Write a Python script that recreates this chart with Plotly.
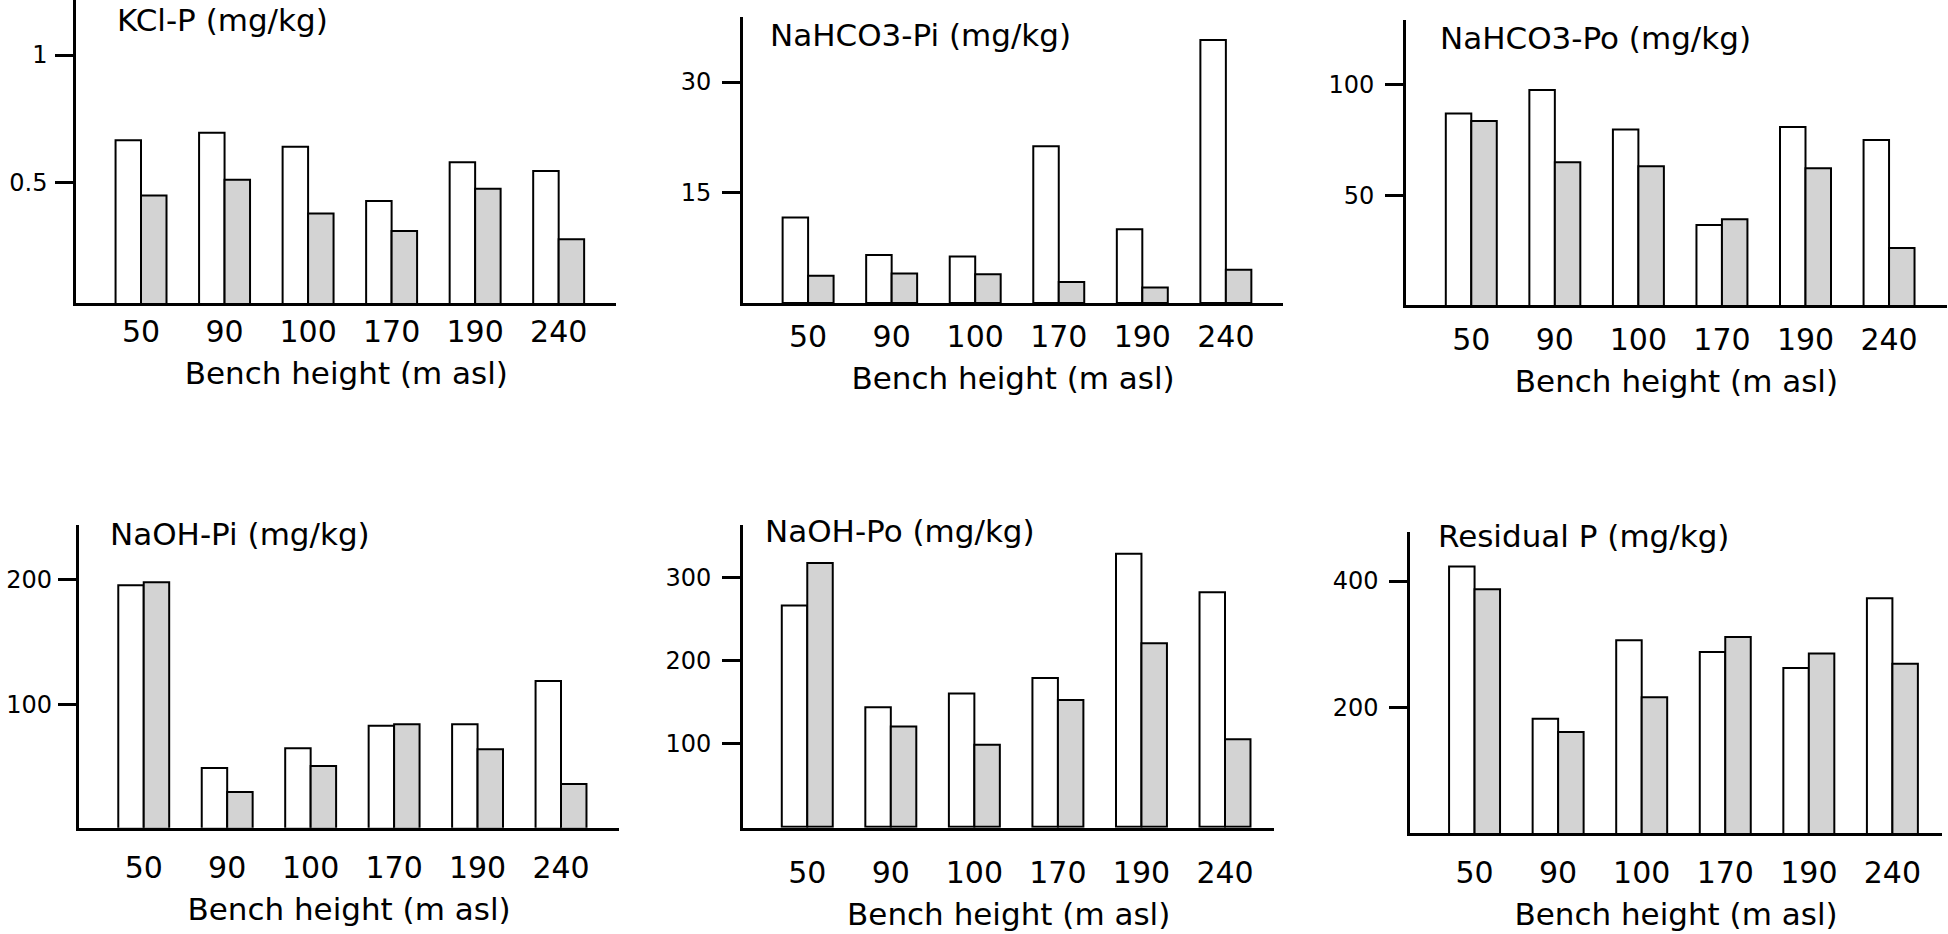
import plotly.graph_objects as go

# ---------------- data ----------------
heights = ["50", "90", "100", "170", "190", "240"]

panel_titles = ["KCl-P (mg/kg)", "NaHCO3-Pi (mg/kg)", "NaHCO3-Po (mg/kg)",
                "NaOH-Pi (mg/kg)", "NaOH-Po (mg/kg)", "Residual P (mg/kg)"]

kcl_p_white = [0.665, 0.695, 0.640, 0.427, 0.579, 0.545]
kcl_p_grey = [0.448, 0.510, 0.378, 0.309, 0.475, 0.277]

nahco3_pi_white = [11.6, 6.5, 6.3, 21.3, 10.0, 35.7]
nahco3_pi_grey = [3.7, 4.0, 3.9, 2.85, 2.1, 4.5]

nahco3_po_white = [87.0, 97.6, 79.7, 36.6, 80.9, 75.0]
nahco3_po_grey = [83.6, 64.9, 63.1, 39.2, 62.2, 26.2]

naoh_pi_white = [195.7, 48.8, 64.6, 82.8, 83.9, 118.8]
naoh_pi_grey = [198.1, 29.5, 50.4, 83.9, 63.8, 35.9]

naoh_po_white = [266, 143.5, 160, 178.8, 328, 281.8]
naoh_po_grey = [317, 120.6, 98.6, 152.3, 220.4, 105]

residual_white = [423, 183, 306.6, 288, 263, 372.7]
residual_grey = [387, 162, 216.8, 311.8, 286, 269.8]

y_ticks = [[0.5, 1], [15, 30], [50, 100], [100, 200], [100, 200, 300], [200, 400]]
x_title = "Bench height (m asl)"

series = [
    (kcl_p_white, kcl_p_grey),
    (nahco3_pi_white, nahco3_pi_grey),
    (nahco3_po_white, nahco3_po_grey),
    (naoh_pi_white, naoh_pi_grey),
    (naoh_po_white, naoh_po_grey),
    (residual_white, residual_grey),
]

# ---------------- layout ----------------
W, H = 1948, 934

# (left, right, bottom(axis line), top) in window pixels
boxes = [
    (76.3, 616.3, 303.3, 0.0),
    (743.1, 1283.1, 303.3, 17.3),
    (1406.2, 1946.7, 305.3, 20.0),
    (78.8, 619.2, 827.7, 525.0),
    (743.1, 1274.3, 827.7, 525.0),
    (1410.3, 1941.7, 833.3, 531.7),
]
y_ranges = [[0.025, 1.216], [-0.05, 38.8], [0.3, 129.2],
            [0.8, 244.2], [-1.2, 362.7], [2.6, 477.7]]
x_ranges = [[-0.775, 5.69], [-0.778, 5.685], [-0.779, 5.69],
            [-0.778, 5.697], [-0.768, 5.59], [-0.769, 5.59]]
title_pos = [(115, 20), (768, 35), (1437.6, 38), (108.3, 534), (763.4, 531), (1435.7, 536)]
label_standoff = [0, 5, 6, 11, 16, 11]
title_standoff = 15
y_label_standoff = [3, 6, 6, 1, 6, 6]

FONT = "DejaVu Sans"


def fx(px):
    return px / W


def fy(py):
    return 1 - py / H


fig = go.Figure()

for i, (wv, gv) in enumerate(series):
    n = i + 1
    xa = "x" if n == 1 else f"x{n}"
    ya = "y" if n == 1 else f"y{n}"
    fig.add_trace(go.Bar(x=heights, y=wv, xaxis=xa, yaxis=ya,
                         marker=dict(color="white", line=dict(color="black", width=2)),
                         showlegend=False, name="white"))
    fig.add_trace(go.Bar(x=heights, y=gv, xaxis=xa, yaxis=ya,
                         marker=dict(color="#d3d3d3", line=dict(color="black", width=2)),
                         showlegend=False, name="grey"))

    l, r, b, t = boxes[i]
    xkey = "xaxis" if n == 1 else f"xaxis{n}"
    ykey = "yaxis" if n == 1 else f"yaxis{n}"
    fig.layout[xkey] = dict(
        domain=[max(0, fx(l)), min(1, fx(r))], anchor=ya, type="category",
        range=x_ranges[i], showgrid=False, zeroline=False,
        showline=True, linecolor="black", linewidth=3,
        ticks="", ticklabelstandoff=label_standoff[i],
        tickfont=dict(family=FONT, size=30, color="black"),
        title=dict(text=x_title, font=dict(family=FONT, size=31, color="black"),
                   standoff=title_standoff),
        automargin=False, fixedrange=True,
    )
    fig.layout[ykey] = dict(
        domain=[max(0, fy(b)), min(1, fy(t))], anchor=xa,
        range=y_ranges[i], showgrid=False, zeroline=False,
        showline=True, linecolor="black", linewidth=3,
        ticks="outside", ticklen=18, tickwidth=3, tickcolor="black",
        tickvals=y_ticks[i], ticktext=[f"{v:g}" for v in y_ticks[i]],
        ticklabelstandoff=y_label_standoff[i],
        tickfont=dict(family=FONT, size=24, color="black"),
        automargin=False, fixedrange=True,
    )
    tx, ty = title_pos[i]
    fig.add_annotation(text=panel_titles[i], xref="paper", yref="paper",
                       x=fx(tx), y=fy(ty), xanchor="left", yanchor="middle",
                       showarrow=False, font=dict(family=FONT, size=31, color="black"))

fig.update_layout(
    width=W, height=H,
    margin=dict(l=0, r=0, t=0, b=0),
    paper_bgcolor="white", plot_bgcolor="white",
    barmode="group", bargap=0.39, bargroupgap=0,
    font=dict(family=FONT, color="black"),
)

# remove the browser's default 8px body margin so the figure fills the window
fig.write_html("out.html", config={"displayModeBar": False},
               post_script="document.body.style.margin='0px';")
